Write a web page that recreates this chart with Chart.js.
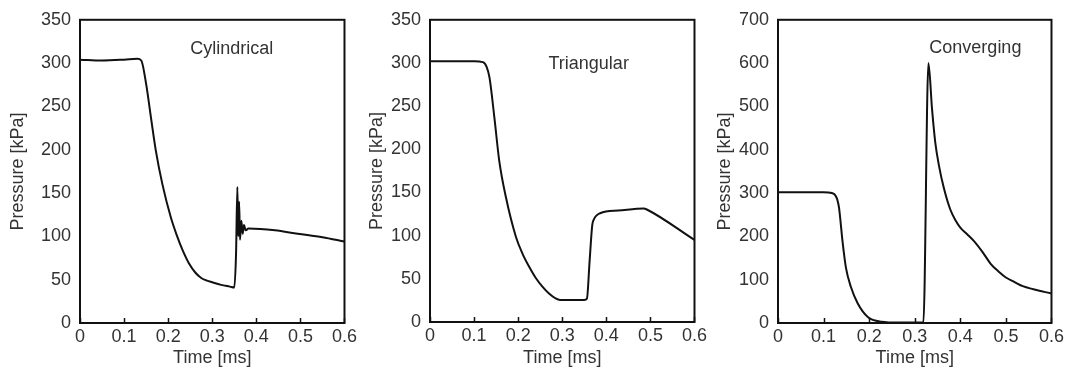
<!DOCTYPE html>
<html>
<head>
<meta charset="utf-8">
<script src="https://cdn.jsdelivr.net/npm/chart.js@4"></script>
<style>
  body { margin: 0; background: #fff; }
  #wrap { position: relative; width: 1067px; height: 373px; overflow: hidden; }
  canvas { position: absolute; top: 0; }
</style>
</head>
<body>
<div id="wrap">
  <canvas id="c1" width="360" height="373" style="left:0px"></canvas>
  <canvas id="c2" width="355" height="373" style="left:355px"></canvas>
  <canvas id="c3" width="362" height="373" style="left:705px"></canvas>
</div>
<script>
// time axis ticks (ms)
const timeTicks = [0, 0.1, 0.2, 0.3, 0.4, 0.5, 0.6];

// Cylindrical
const cylTime = [0, 0.05, 0.1, 0.13, 0.139, 0.15, 0.161, 0.172, 0.187, 0.206, 0.219, 0.232, 0.247, 0.262, 0.275, 0.285, 0.3, 0.32, 0.34, 0.35,
  0.354, 0.357, 0.359, 0.361, 0.363, 0.366, 0.369, 0.372, 0.376, 0.382, 0.442, 0.494, 0.55, 0.6];
const cylP = [304, 303, 304, 305, 303, 276, 237, 199, 160, 122, 102, 85, 69, 58, 52, 49.5, 47, 44, 42, 41,
  80, 157, 100, 140, 96, 118, 103, 113, 107, 109, 107, 103, 99, 94];

// Triangular
const triTime = [0, 0.05, 0.1, 0.12, 0.128, 0.135, 0.146, 0.157, 0.172, 0.195, 0.21, 0.225, 0.24, 0.255, 0.27, 0.285, 0.295, 0.35, 0.356,
  0.362, 0.368, 0.371, 0.386, 0.427, 0.485, 0.493, 0.6];
const triP = [302, 302, 302, 301, 296, 283, 237, 187, 145, 98.5, 79, 64, 51, 41, 33, 27.3, 25.5, 25.5, 27,
  70, 112, 118, 126, 129, 131.5, 130, 95];

// Converging
const conTime = [0, 0.05, 0.1, 0.118, 0.125, 0.13, 0.134, 0.1415, 0.149, 0.16, 0.175, 0.197, 0.227, 0.264, 0.3, 0.319,
  0.33, 0.338, 0.345, 0.353, 0.364, 0.378, 0.39, 0.4, 0.415, 0.43, 0.45, 0.467, 0.485, 0.5, 0.52, 0.537, 0.56, 0.6];
const conP = [302, 302, 302, 300, 296, 285, 265, 189, 128, 83, 45, 14, 3, 1, 1, 1,
  600, 493, 417, 364, 311, 262, 236, 220, 205, 189, 162, 136, 118, 105, 94, 85, 78, 68];

const panelNames = ['Cylindrical', 'Triangular', 'Converging'];
// label anchor in data units [time, pressure]
const panelLabelAt = [[0.344, 316], [0.36, 299], [0.433, 634]];

const textColor = '#333';
const fontFam = 'Arial, "Liberation Sans", Helvetica, sans-serif';
const fs = 18;

function pairs(xs, ys) {
  return xs.map((x, i) => ({ x: x, y: ys[i] }));
}

// frame + inward ticks + panel name
const framePlugin = {
  id: 'frame',
  afterDatasetsDraw(chart, args, opts) {
    const ctx = chart.ctx;
    const a = chart.chartArea;
    const xs = chart.scales.x, ys = chart.scales.y;
    ctx.save();
    ctx.strokeStyle = '#111';
    ctx.lineWidth = 2;
    ctx.strokeRect(a.left, a.top, a.right - a.left, a.bottom - a.top);
    ctx.lineWidth = 1.5;
    xs.ticks.forEach(t => {
      const px = Math.round(xs.getPixelForValue(t.value)) + 0.5;
      ctx.beginPath();
      ctx.moveTo(px, a.bottom);
      ctx.lineTo(px, a.bottom - 5);
      ctx.stroke();
    });
    ctx.fillStyle = textColor;
    ctx.font = fs + 'px ' + fontFam;
    ctx.textAlign = 'center';
    ctx.textBaseline = 'middle';
    ctx.fillText(opts.name, xs.getPixelForValue(opts.at[0]), ys.getPixelForValue(opts.at[1]));
    ctx.restore();
  }
};

function makeChart(id, xs, ys, idx, yMax, yStep, lay) {
  return new Chart(document.getElementById(id), {
    type: 'line',
    data: {
      datasets: [{
        data: pairs(xs, ys),
        borderColor: '#111',
        borderWidth: 2,
        pointRadius: 0,
        fill: false,
        cubicInterpolationMode: 'monotone'
      }]
    },
    options: {
      responsive: false,
      animation: false,
      layout: { padding: { left: 0, right: lay.right, top: lay.top, bottom: 0 } },
      plugins: {
        legend: { display: false },
        tooltip: { enabled: false },
        frame: { name: panelNames[idx], at: panelLabelAt[idx] }
      },
      scales: {
        x: {
          type: 'linear',
          min: 0, max: 0.6,
          afterBuildTicks: s => { s.ticks = timeTicks.map(v => ({ value: v })); },
          afterFit: s => { s.height = lay.xh; },
          grid: { display: false, drawTicks: false },
          border: { display: false },
          ticks: {
            color: textColor, padding: 3,
            font: { family: fontFam, size: fs },
            callback: v => v === 0 ? '0' : v.toFixed(1)
          },
          title: {
            display: true, text: 'Time [ms]', color: textColor,
            font: { family: fontFam, size: fs },
            padding: { top: 0, bottom: 4 }
          }
        },
        y: {
          min: 0, max: yMax,
          afterFit: s => { s.width = lay.yw; },
          grid: { display: false, drawTicks: false },
          border: { display: false },
          ticks: {
            stepSize: yStep, color: textColor, padding: 9,
            font: { family: fontFam, size: fs }
          },
          title: {
            display: true, text: 'Pressure [kPa]', color: textColor,
            font: { family: fontFam, size: fs },
            padding: { top: lay.tp, bottom: 0 }
          }
        }
      }
    },
    plugins: [framePlugin]
  });
}

makeChart('c1', cylTime, cylP, 0, 350, 50, { right: 13, top: 19, xh: 50, yw: 80, tp: 7 });
makeChart('c2', triTime, triP, 1, 350, 50, { right: 13, top: 19, xh: 51, yw: 75, tp: 11 });
makeChart('c3', conTime, conP, 2, 700, 100, { right: 14, top: 16, xh: 50, yw: 73, tp: 9 });
</script>
</body>
</html>
